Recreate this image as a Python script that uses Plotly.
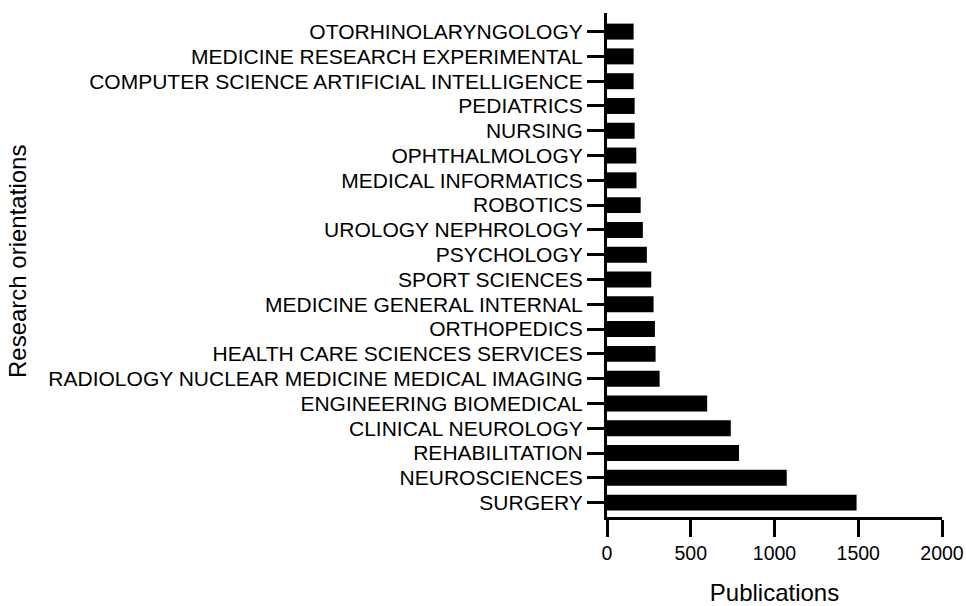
import plotly.graph_objects as go

# bottom to top, as drawn
categories = [
    "SURGERY",
    "NEUROSCIENCES",
    "REHABILITATION",
    "CLINICAL NEUROLOGY",
    "ENGINEERING BIOMEDICAL",
    "RADIOLOGY NUCLEAR MEDICINE MEDICAL IMAGING",
    "HEALTH CARE SCIENCES SERVICES",
    "ORTHOPEDICS",
    "MEDICINE GENERAL INTERNAL",
    "SPORT SCIENCES",
    "PSYCHOLOGY",
    "UROLOGY NEPHROLOGY",
    "ROBOTICS",
    "MEDICAL INFORMATICS",
    "OPHTHALMOLOGY",
    "NURSING",
    "PEDIATRICS",
    "COMPUTER SCIENCE ARTIFICIAL INTELLIGENCE",
    "MEDICINE RESEARCH EXPERIMENTAL",
    "OTORHINOLARYNGOLOGY",
]
publications = [1490, 1073, 788, 739, 598, 314, 290, 286, 278, 264,
                238, 214, 201, 176, 175, 165, 165, 159, 159, 159]
x_ticks = [0, 500, 1000, 1500, 2000]

FONT = "Liberation Sans, Arial, sans-serif"

fig = go.Figure()
fig.add_trace(
    go.Bar(
        x=publications,
        y=categories,
        orientation="h",
        marker=dict(color="#000000", line=dict(width=0)),
    )
)

axis_common = dict(
    showline=True,
    linecolor="#000000",
    linewidth=3,
    ticks="outside",
    ticklen=17,
    tickwidth=3,
    tickcolor="#000000",
    showgrid=False,
    zeroline=False,
    automargin=False,
)

fig.update_xaxes(
    range=[0, 2000],
    tickmode="array",
    tickvals=x_ticks,
    tickfont=dict(family=FONT, size=19.5, color="#000000"),
    title=dict(text="Publications", font=dict(family=FONT, size=24, color="#000000"), standoff=26),
    **axis_common,
)
fig.update_yaxes(
    type="category",
    range=[-0.58, 19.75],
    tickmode="array",
    tickvals=categories,
    ticktext=categories,
    tickfont=dict(family=FONT, size=21, color="#000000"),
    **axis_common,
)

# y title placed by hand, far left of the long category labels
fig.add_annotation(
    text="Research orientations",
    xref="paper", yref="paper",
    x=-1.758, y=0.506,
    xanchor="center", yanchor="middle",
    textangle=-90,
    showarrow=False,
    font=dict(family=FONT, size=24, color="#000000"),
)

fig.update_layout(
    width=966,
    height=606,
    bargap=0.355,
    showlegend=False,
    plot_bgcolor="#ffffff",
    paper_bgcolor="#ffffff",
    margin=dict(l=607, r=24, t=13, b=89),
)

# drop the default 8px body margin so the figure fills the window exactly
fig.write_html(
    "out.html",
    config={"displayModeBar": False},
    post_script="document.body.style.margin='0';",
)
